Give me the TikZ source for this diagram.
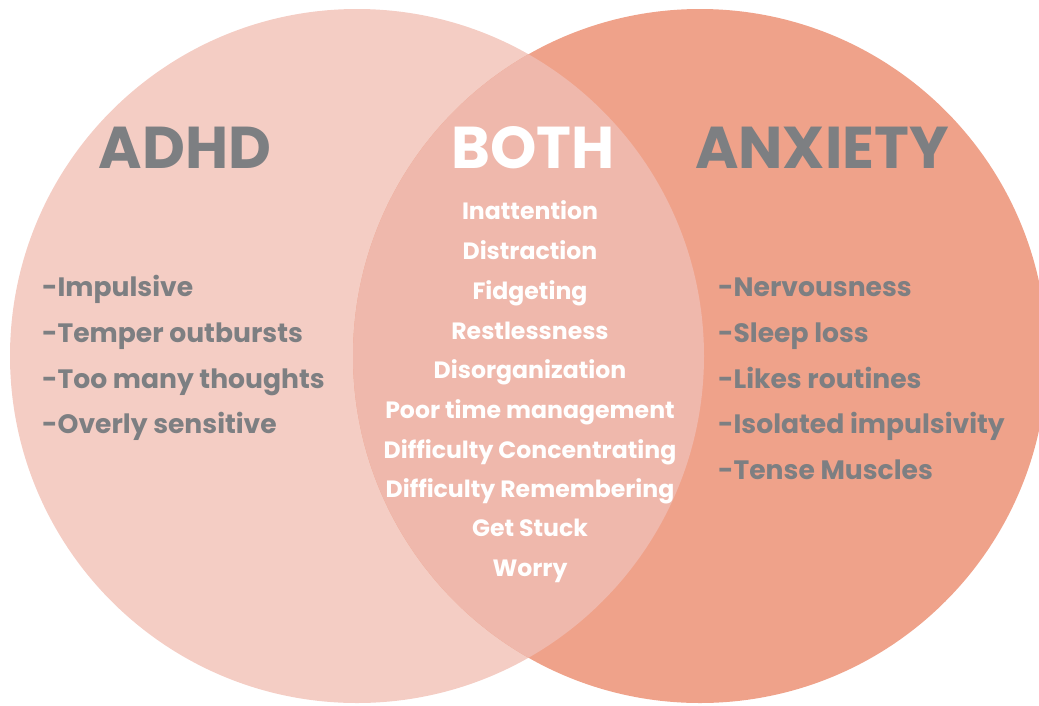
\documentclass[tikz,border=0pt]{standalone}
\usepackage{fontspec}
\setmainfont{Poppins}
\definecolor{adhdc}{HTML}{F4CDC4}
\definecolor{anxc}{HTML}{EFA28A}
\definecolor{bothc}{HTML}{EFB8AC}
\definecolor{txtgray}{HTML}{7D7F82}
\tikzset{
  title/.style={font=\fontsize{59}{59}\selectfont\bfseries, text=txtgray, inner sep=0pt, anchor=base},
  btitle/.style={title, text=white},
  item/.style={font=\fontsize{26.6}{27}\selectfont\bfseries, text=txtgray, inner sep=0pt, anchor=base west},
  citem/.style={font=\fontsize{23.6}{24}\selectfont\bfseries, text=white, inner sep=0pt, anchor=base}
}
\begin{document}
\begin{tikzpicture}[x=1pt,y=-1pt]
\useasboundingbox (0,0) rectangle (1039,705);
\begin{scope}
  \clip (0,0) rectangle (1039,705);
  \fill[adhdc] (357,356) circle (347);
  \fill[anxc] (700,356) circle (347);
  \begin{scope}
    \clip (357,356) circle (347);
    \fill[bothc] (700,356) circle (347);
  \end{scope}
\end{scope}
\node[title] (tadhd) at (185,168) {ADHD};
\node[btitle] (tboth) at (533,168) {BOTH};
\node[title] (tanx) at (822,168) {ANXIETY};
\node[item] (l1) at (42,296) {-Impulsive};
\node[item] (l2) at (42,342) {-Temper outbursts};
\node[item] (l3) at (42,388) {-Too many thoughts};
\node[item] (l4) at (42,433) {-Overly sensitive};
\node[item] (r1) at (718,296) {-Nervousness};
\node[item] (r2) at (718,342) {-Sleep loss};
\node[item] (r3) at (718,388) {-Likes routines};
\node[item] (r4) at (718,433) {-Isolated impulsivity};
\node[item] (r5) at (718,479) {-Tense Muscles};
\node[citem] (c1) at (530,219) {Inattention};
\node[citem] (c2) at (530,259) {Distraction};
\node[citem] (c3) at (530,299) {Fidgeting};
\node[citem] (c4) at (530,339) {Restlessness};
\node[citem] (c5) at (530,378) {Disorganization};
\node[citem] (c6) at (530,418) {Poor time management};
\node[citem] (c7) at (530,458) {Difficulty Concentrating};
\node[citem] (c8) at (530,497) {Difficulty Remembering};
\node[citem] (c9) at (530,536) {Get Stuck};
\node[citem] (c10) at (530,576) {Worry};
\end{tikzpicture}
\end{document}
